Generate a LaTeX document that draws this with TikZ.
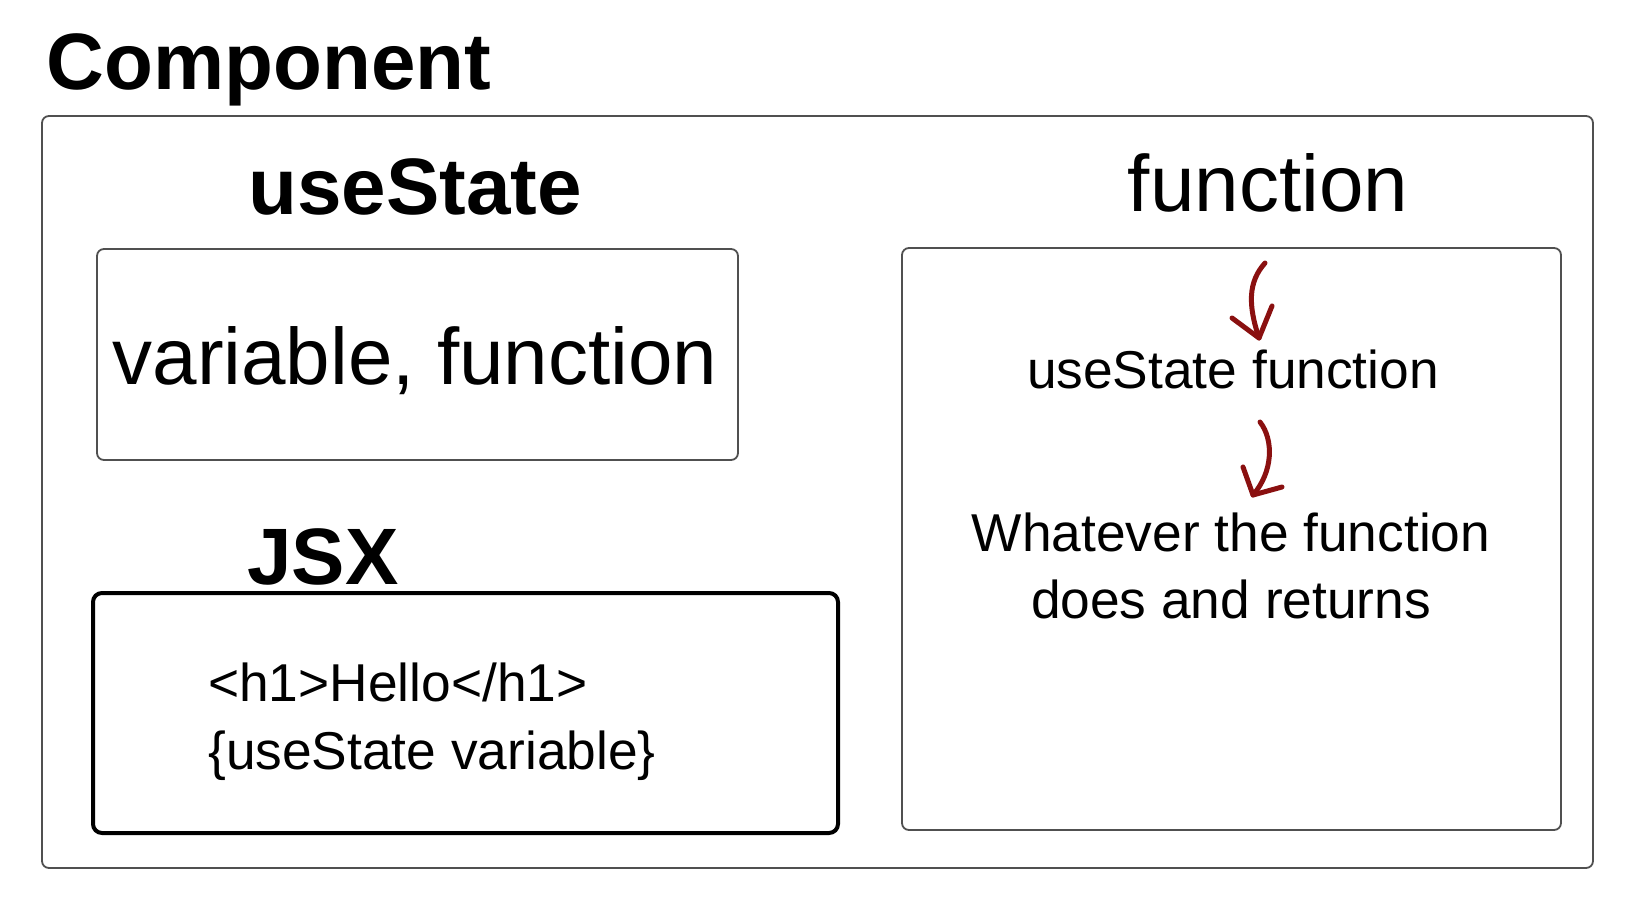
\documentclass[tikz,border=0pt]{standalone}
\usepackage{fontspec}
\setmainfont{Liberation Sans}
\definecolor{boxgray}{HTML}{505050}
\definecolor{inkred}{HTML}{8A1010}
\begin{document}
\begin{tikzpicture}[x=1pt,y=-1pt,
  thinbox/.style={draw=boxgray,line width=1.8pt,rounded corners=7pt,inner sep=0pt},
  thickbox/.style={draw=black,line width=4pt,rounded corners=9pt,inner sep=0pt},
  bigbold/.style={font=\fontsize{80}{90}\selectfont\bfseries,inner sep=0pt,anchor=base},
  bigreg/.style={font=\fontsize{80}{90}\selectfont,inner sep=0pt,anchor=base},
  midtext/.style={font=\fontsize{53.3}{67}\selectfont,inner sep=0pt,anchor=base},
  stroke/.style={draw=inkred,line width=5pt,line cap=round,line join=round}]
\useasboundingbox (0,0) rectangle (1636,902);
\fill[white] (0,0) rectangle (1636,902);

% boxes
\node[thinbox,minimum width=1551pt,minimum height=752pt] (outer) at (817.5,492) {};
\node[thinbox,minimum width=641pt,minimum height=211pt] (usebox) at (417.5,354.5) {};
\node[thickbox,minimum width=745pt,minimum height=240pt] (jsxbox) at (465.5,713) {};
\node[thinbox,minimum width=659pt,minimum height=582pt] (funcbox) at (1231.5,539) {};

% titles
\node[bigbold] (comp) at (269,89) {Component};
\node[bigbold] (usetitle) at (415,214) {useState};
\node[bigreg] (functitle) at (1268,211) {function};
\node[bigbold] (jsxtitle) at (323,584) {JSX};

% contents
\node[bigreg] (vf) at (415,384) {variable, function};
\node[midtext,anchor=base west] (h1) at (208,701) {<h1>Hello</h1>};
\node[midtext,anchor=base west] (usv) at (208,769) {\{useState variable\}};
\node[midtext] (usf) at (1233,388) {useState function};
\node[midtext] (what1) at (1231,551) {Whatever the function};
\node[midtext] (what2) at (1231,618) {does and returns};

% hand-drawn arrows
\coordinate (a1s) at (1265,263);
\coordinate (a1t) at (1259,338);
\coordinate (a2s) at (1260,422);
\coordinate (a2t) at (1253,495);
\draw[stroke] (a1s) .. controls (1248,282) and (1248,305) .. (a1t);
\draw[stroke] (1232,318) -- (a1t) -- (1272,306);
\draw[stroke] (a2s) .. controls (1274,440) and (1273,472) .. (a2t);
\draw[stroke] (1243,467) -- (a2t) -- (1282,487);
\end{tikzpicture}
\end{document}
